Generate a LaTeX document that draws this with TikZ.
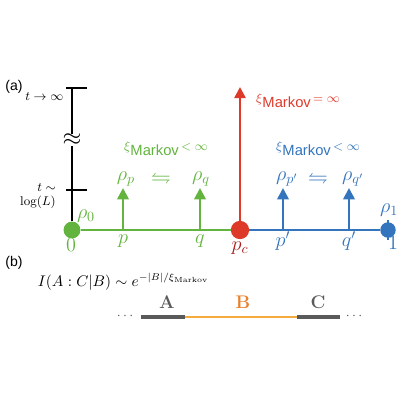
\documentclass[tikz,border=0pt]{standalone}
\usepackage{amssymb}
\usepackage{fontspec}
\setsansfont{Liberation Sans}
\usetikzlibrary{arrows.meta}
\definecolor{mgreen}{RGB}{98,180,62}
\definecolor{mred}{RGB}{222,58,42}
\definecolor{mblue}{RGB}{52,116,188}
\definecolor{morange}{RGB}{244,172,62}
\definecolor{mgray}{RGB}{90,90,90}
\definecolor{dred}{RGB}{172,30,30}
\definecolor{dorange}{RGB}{234,128,42}
\newcommand{\ximark}[1]{\raisebox{3.5pt}{\fontsize{9}{10}\selectfont$\xi$}\textsf{Markov}\raisebox{3.5pt}{\fontsize{9}{10}\selectfont$\,#1$}}
\tikzset{
  dot/.style={circle, inner sep=0pt, minimum size=12pt},
  uparr/.style={line width=1.8pt, -{Triangle[length=8pt, width=8pt]}},
  tick/.style={line width=1.5pt},
  lbl/.style={font=\fontsize{14}{16}\selectfont},
  small/.style={font=\fontsize{9}{10}\selectfont},
}
\begin{document}
\begin{tikzpicture}[x=0.025cm, y=-0.025cm]
	\useasboundingbox (0,0) rectangle (400,400);
	%(a) time axis
	\node[font=\sffamily\fontsize{10}{12}\selectfont] (lba) at (14,87) {(a)};
	\coordinate (tinf) at (72,88);
	\coordinate (tlog) at (72,190);
	\node[dot, fill=mgreen] (r0) at (72,230) {};
	\node[dot, fill=mred, minimum size=13pt] (pc) at (240,230) {};
	\node[dot, fill=mblue, minimum size=11pt] (r1) at (388,230) {};
	\draw[tick] (r0.north) -- (tinf);
	\draw[tick] (66,88) -- (87,88);
	\draw[tick] (66,190) -- (87,190);
	\node[fill=white, inner sep=0pt, font=\fontsize{16}{16}\selectfont] (approx) at (72,140) {$\approx$};
	\node[small, anchor=east, inner sep=1pt] (tinflab) at (65,97) {$t\rightarrow\infty$};
	\node[small, align=right, inner sep=0pt] (tloglab) at (38,196) {$t\sim$\\$\log(L)$};
	
	%parameter line
	\draw[mgreen, tick] (r0) -- (pc);
	\draw[mblue, tick] (pc) -- (r1);
	\draw[mblue, tick] (388,220) -- (388,240);
	\coordinate (pctop) at (240,87);
	\draw[mred, uparr] (pc.north) -- (pctop);
	
	\coordinate (pbase) at (123,230);
	\coordinate (qbase) at (200,230);
	\coordinate (ppbase) at (283,230);
	\coordinate (qpbase) at (349,230);
	\draw[mgreen, uparr] (pbase) -- ++(0,-42);
	\draw[mgreen, uparr] (qbase) -- ++(0,-42);
	\draw[mblue, uparr] (ppbase) -- ++(0,-42);
	\draw[mblue, uparr] (qpbase) -- ++(0,-42);
	
	\node[lbl, mgreen] (rho0) at (86,216) {$\rho_0$};
	\node[lbl, mblue] (rho1) at (389,210) {$\rho_1$};
	\node[lbl, mgreen] (zero) at (71,245) {$0$};
	\node[lbl, mgreen] (plab) at (123,241) {$p$};
	\node[lbl, mgreen] (qlab) at (200,241) {$q$};
	\node[lbl, dred] (pclab) at (240,248) {$p_c$};
	\node[lbl, mblue] (pplab) at (283,241) {$p'$};
	\node[lbl, mblue] (qplab) at (349,241) {$q'$};
	\node[lbl, mblue] (one) at (393,243) {$1$};
	
	\node[lbl, mgreen] (rhop) at (126,179) {$\rho_p$};
	\node[lbl, mgreen] (eqg) at (161,178) {$\leftrightharpoons$};
	\node[lbl, mgreen] (rhoq) at (201,179) {$\rho_q$};
	\node[lbl, mblue] (rhopp) at (287,179) {$\rho_{p'}$};
	\node[lbl, mblue] (eqb) at (318,178) {$\leftrightharpoons$};
	\node[lbl, mblue] (rhoqp) at (353,179) {$\rho_{q'}$};
	
	\node[font=\fontsize{10.5}{12}\selectfont, mgreen] (xig) at (166,149) {\ximark{<\infty}};
	\node[font=\fontsize{10.5}{12}\selectfont, mred] (xir) at (298,101) {\ximark{=\infty}};
	\node[font=\fontsize{10.5}{12}\selectfont, mblue] (xib) at (318,149) {\ximark{<\infty}};
	
	%(b) chain
	\node[font=\sffamily\fontsize{10}{12}\selectfont] (lbb) at (14,263) {(b)};
	\node[font=\fontsize{10.5}{12}\selectfont, anchor=west] (cmi) at (33,282) {$I(A:C|B)\sim e^{-|B|/\xi_{\mathrm{Markov}}}$};
	\coordinate (a0) at (141,317);
	\coordinate (b0) at (185,317);
	\coordinate (c0) at (297,317);
	\coordinate (c1) at (340,317);
	\draw[mgray, line width=3pt] (a0) -- (b0);
	\draw[morange, line width=2pt] (b0) -- (c0);
	\draw[mgray, line width=3pt] (c0) -- (c1);
	\node[mgray] (dl) at (125,316) {$\cdots$};
	\node[mgray] (dr) at (354,316) {$\cdots$};
	\node[font=\bfseries\fontsize{13}{14}\selectfont, mgray] (alab) at (167,302) {A};
	\node[font=\bfseries\fontsize{13}{14}\selectfont, dorange] (blab) at (243,302) {B};
	\node[font=\bfseries\fontsize{13}{14}\selectfont, mgray] (clab) at (318,302) {C};
\end{tikzpicture}
\end{document}
